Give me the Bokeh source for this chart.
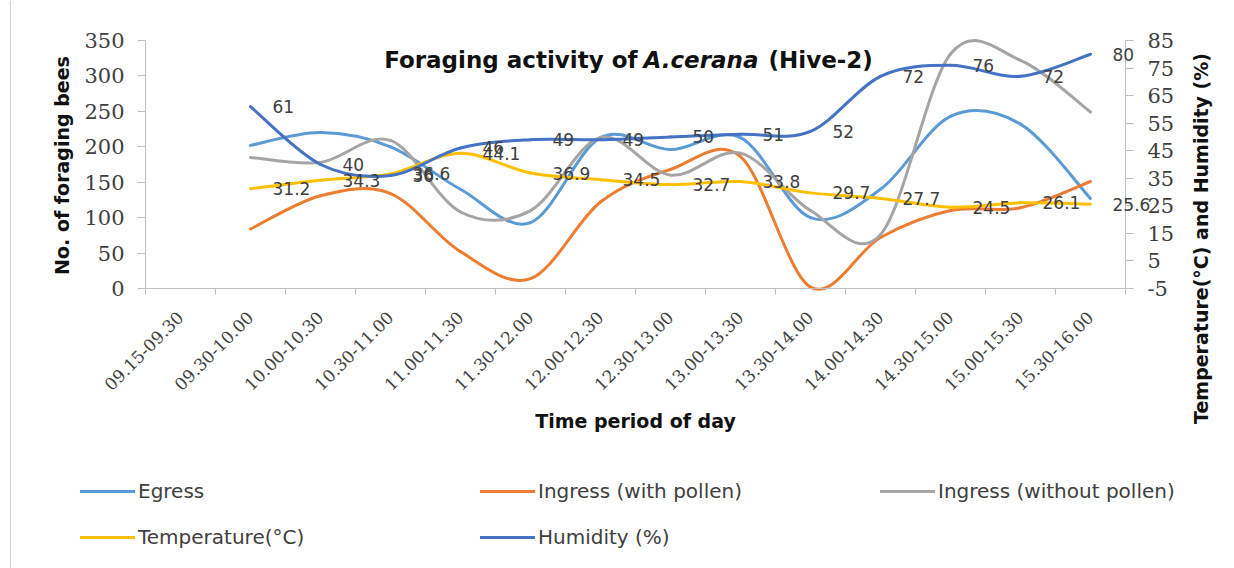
from math import pi
from bokeh.plotting import figure
from bokeh.models import (Range1d, LinearAxis, FixedTicker, ColumnDataSource, LabelSet,
                          Label, Legend, LegendItem, Span)
from bokeh.core.properties import value
from bokeh.embed import file_html
from bokeh.resources import INLINE

# ---------------- data ----------------
categories = ["09.15-09.30", "09.30-10.00", "10.00-10.30", "10.30-11.00", "11.00-11.30",
              "11.30-12.00", "12.00-12.30", "12.30-13.00", "13.00-13.30", "13.30-14.00",
              "14.00-14.30", "14.30-15.00", "15.00-15.30", "15.30-16.00"]
data_categories = categories[1:]
egress = [202, 220, 200, 140, 93, 213, 196, 213, 100, 140, 243, 232, 127]
ingress_pollen = [84, 131, 134, 52, 14, 122, 168, 186, 2, 72, 110, 114, 151]
ingress_no_pollen = [185, 178, 209, 108, 110, 213, 160, 191, 110, 76, 331, 322, 249]
temperature = [31.2, 34.3, 36.6, 44.1, 36.9, 34.5, 32.7, 33.8, 29.7, 27.7, 24.5, 26.1, 25.6]
humidity = [61, 40, 36, 46, 49, 49, 50, 51, 52, 72, 76, 72, 80]
left_ticks = [0, 50, 100, 150, 200, 250, 300, 350]
right_ticks = [-5, 5, 15, 25, 35, 45, 55, 65, 75, 85]

GRAY = "#BFBFBF"
TXT = "#404040"
W, H = 1234, 568
# plot-area placement on the canvas (pixels)
PL, PR, PT, PB = 145, 1125, 40, 288

ncat = len(categories)
cat_pos = {c: i + 0.5 for i, c in enumerate(categories)}
xs = [cat_pos[c] for c in data_categories]

# The frame covers the whole canvas; ranges are set so the plotting area
# [0, ncat] x [0, 350] lands on the PL..PR / PT..PB rectangle, axes are pinned there.
kx = (PR - PL) / ncat
ky = (PB - PT) / (left_ticks[-1] - left_ticks[0])
ky2 = (PB - PT) / (right_ticks[-1] - right_ticks[0])
x_rng = Range1d(-PL / kx, ncat + (W - PR) / kx)
y_rng = Range1d(left_ticks[0] - (H - PB) / ky, left_ticks[-1] + PT / ky)
y2_rng = Range1d(right_ticks[0] - (H - PB) / ky2, right_ticks[-1] + PT / ky2)

p = figure(width=W, height=H, x_range=x_rng, y_range=y_rng,
           output_backend="svg", toolbar_location=None,
           min_border=0, min_border_left=0, min_border_right=0,
           min_border_top=0, min_border_bottom=0)
p.extra_y_ranges = {"y2": y2_rng}
p.grid.visible = False
p.outline_line_color = None
p.background_fill_color = "white"
p.border_fill_color = "white"


def px_x(page_x):
    return (page_x - PL) / kx


def px_y(page_y):
    return (PB - page_y) / ky


# chart-area border (left edge visible in the reference)
p.add_layout(Span(location=px_x(10), dimension="height", line_color="#D0D0D0", line_width=1))

# x axis
xa = p.xaxis[0]
xa.fixed_location = left_ticks[0]
xa.bounds = (0, ncat)
xa.ticker = FixedTicker(ticks=[cat_pos[c] for c in categories],
                        minor_ticks=list(range(ncat + 1)))
xa.major_label_overrides = {cat_pos[c]: c for c in categories}
xa.major_tick_line_color = None
xa.minor_tick_line_color = GRAY
xa.minor_tick_in = 0
xa.minor_tick_out = 6
xa.axis_line_color = GRAY
xa.major_label_orientation = pi / 4
xa.major_label_text_font = "DejaVu Serif"
xa.major_label_text_font_size = "17px"
xa.major_label_text_color = TXT
xa.major_label_standoff = 20

# left y axis
ya = p.yaxis[0]
ya.fixed_location = 0
ya.bounds = (left_ticks[0], left_ticks[-1])
ya.ticker = FixedTicker(ticks=left_ticks)
ya.major_label_overrides = {t: str(t) for t in left_ticks}
ya.major_tick_in = 0
ya.major_tick_out = 8
ya.major_tick_line_color = GRAY
ya.minor_tick_line_color = None
ya.axis_line_color = GRAY
ya.major_label_text_font = "DejaVu Serif"
ya.major_label_text_font_size = "21px"
ya.major_label_text_color = TXT
ya.major_label_standoff = 13

# right y axis
ya2 = LinearAxis(y_range_name="y2", ticker=FixedTicker(ticks=right_ticks))
ya2.fixed_location = ncat
ya2.bounds = (right_ticks[0], right_ticks[-1])
ya2.major_label_overrides = {t: str(t) for t in right_ticks}
ya2.major_tick_in = 0
ya2.major_tick_out = 8
ya2.major_tick_line_color = GRAY
ya2.minor_tick_line_color = None
ya2.axis_line_color = GRAY
ya2.major_label_text_font = "DejaVu Serif"
ya2.major_label_text_font_size = "21px"
ya2.major_label_text_color = TXT
ya2.major_label_standoff = 14
p.add_layout(ya2, "right")


def bezier_source(xv, yv):
    n = len(xv)
    d = {k: [] for k in ("x0", "y0", "x1", "y1", "cx0", "cy0", "cx1", "cy1")}
    for i in range(n - 1):
        xp, yp = (xv[i - 1], yv[i - 1]) if i > 0 else (xv[i], yv[i])
        xn, yn = (xv[i + 2], yv[i + 2]) if i + 2 < n else (xv[i + 1], yv[i + 1])
        d["x0"].append(xv[i]); d["y0"].append(yv[i])
        d["x1"].append(xv[i + 1]); d["y1"].append(yv[i + 1])
        d["cx0"].append(xv[i] + (xv[i + 1] - xp) / 6.0)
        d["cy0"].append(yv[i] + (yv[i + 1] - yp) / 6.0)
        d["cx1"].append(xv[i + 1] - (xn - xv[i]) / 6.0)
        d["cy1"].append(yv[i + 1] - (yn - yv[i]) / 6.0)
    return ColumnDataSource(d)


series = [
    ("Egress", egress, "#5B9BD5", "default"),
    ("Ingress (with pollen)", ingress_pollen, "#ED7D31", "default"),
    ("Ingress (without pollen)", ingress_no_pollen, "#A5A5A5", "default"),
    ("Temperature(°C)", temperature, "#FFC000", "y2"),
    ("Humidity (%)", humidity, "#4472C4", "y2"),
]
items = []
for name, vals, col, rng in series:
    r = p.bezier(x0="x0", y0="y0", x1="x1", y1="y1", cx0="cx0", cy0="cy0", cx1="cx1", cy1="cy1",
                 source=bezier_source(xs, vals), line_color=col, line_width=3,
                 line_cap="round", y_range_name=rng)
    items.append(LegendItem(label=name, renderers=[r]))

# data labels (temperature and humidity)
for vals in (temperature, humidity):
    src = ColumnDataSource(dict(x=xs, y=vals, t=[f"{v:g}" for v in vals]))
    p.add_layout(LabelSet(x="x", y="y", text="t", source=src, y_range_name="y2",
                          x_offset=22, text_align="left", text_baseline="middle",
                          text_font=value("DejaVu Sans"), text_font_size="17px",
                          text_color=TXT))

# titles
title_kw = dict(y=px_y(59), text_font="DejaVu Sans", text_font_size="23px",
                text_color="#111111", text_baseline="alphabetic")
p.add_layout(Label(x=px_x(637), text="Foraging activity of", text_align="right",
                   text_font_style="bold", **title_kw))
p.add_layout(Label(x=px_x(643), text="A.cerana", text_align="left",
                   text_font_style="bold italic", **title_kw))
p.add_layout(Label(x=px_x(768), text="(Hive-2)", text_align="left",
                   text_font_style="bold", **title_kw))

axis_title_kw = dict(text_align="center", text_baseline="middle", text_font="DejaVu Sans",
                     text_font_style="bold", text_font_size="19px", text_color="#111111")
p.add_layout(Label(x=px_x(61), y=px_y(165), text="No. of foraging bees", angle=pi / 2,
                   **axis_title_kw))
p.add_layout(Label(x=px_x(635), y=px_y(420), text="Time period of day", **axis_title_kw))
p.add_layout(Label(x=px_x(1200), y=px_y(238), text="Temperature(°C) and Humidity (%)",
                   angle=pi / 2, **axis_title_kw))

legend = Legend(items=items, location=(80, 19), orientation="horizontal", ncols=3,
                glyph_width=55, glyph_height=24, label_height=24, label_width=320,
                label_standoff=3, spacing=22, padding=0, margin=0,
                border_line_color=None, background_fill_alpha=0,
                label_text_font="DejaVu Sans", label_text_font_size="20px",
                label_text_color=TXT)
p.add_layout(legend)

open("out.html", "w").write(file_html(p, INLINE))
